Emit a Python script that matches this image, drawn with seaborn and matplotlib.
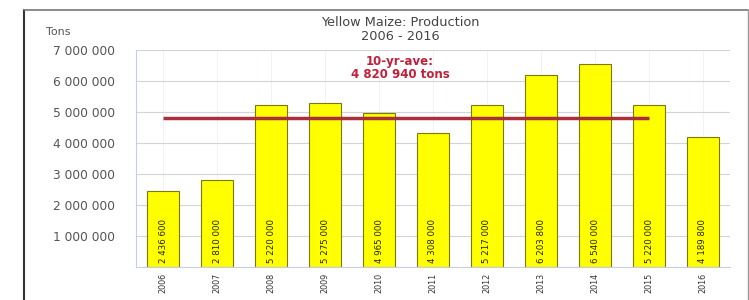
import matplotlib
matplotlib.use("Agg")
import matplotlib.pyplot as plt
import seaborn as sns
import pandas as pd
from matplotlib.lines import Line2D

years = ["2006", "2007", "2008", "2009", "2010", "2011", "2012", "2013", "2014", "2015", "2016"]
production = [2436600, 2810000, 5220000, 5275000, 4965000, 4308000, 5217000, 6203800, 6540000, 5220000, 4189800]
value_labels = ["2 436 600", "2 810 000", "5 220 000", "5 275 000", "4 965 000", "4 308 000",
                "5 217 000", "6 203 800", "6 540 000", "5 220 000", "4 189 800"]
avg_value = 4820940
avg_years = years[:10]
ytick_values = [1000000, 2000000, 3000000, 4000000, 5000000, 6000000, 7000000]
ytick_labels = ["1 000 000", "2 000 000", "3 000 000", "4 000 000", "5 000 000", "6 000 000", "7 000 000"]

sns.set_style("white")
plt.rcParams['font.family'] = ['DejaVu Sans']

fig = plt.figure(figsize=(7.49, 3.0), dpi=100)
ax = fig.add_axes([136/749, 1-267/300, (730-136)/749, (267-50)/300])

df = pd.DataFrame({"year": years, "production": production})
sns.barplot(data=df, x="year", y="production", ax=ax, color="#ffff00",
            edgecolor="#7a7a10", linewidth=0.8, width=0.6, saturation=1)

ax.set_ylim(0, 7000000)
ax.set_xlim(-0.5, len(years) - 0.5)
ax.set_yticks(ytick_values)
ax.set_yticklabels(ytick_labels, fontsize=8.8, color="#555555")
ax.tick_params(axis="y", length=0, pad=15)
ax.set_xticks(range(len(years)))
ax.set_xticklabels(years, rotation=90, fontsize=5.8, color="#333333")
ax.tick_params(axis="x", length=0, pad=4)
ax.set_xlabel("")
ax.set_ylabel("")
ax.yaxis.grid(True, color="#d4d4d4", linewidth=0.8)
ax.xaxis.grid(True, color="#eef0f8", linewidth=0.6)
ax.set_axisbelow(True)
for s in ["top", "right"]:
    ax.spines[s].set_visible(False)
for s in ["left", "bottom"]:
    ax.spines[s].set_color("#c8cce8")
    ax.spines[s].set_linewidth(0.8)

# value labels inside bars
for i, (v, lab) in enumerate(zip(production, value_labels)):
    ax.text(i, 140000, lab, rotation=90, ha="center", va="bottom",
            fontsize=6.2, color="#222200")

# average line from first to tenth bar
ax.plot([0, len(avg_years) - 1], [avg_value, avg_value], color="#a8303c",
        linewidth=2.5, solid_capstyle="butt", zorder=5)

# titles and annotations
fig.text(400/749, 1-23/300, "Yellow Maize: Production", ha="center", va="center",
         fontsize=9.3, color="#444444")
fig.text(400/749, 1-37/300, "2006 - 2016", ha="center", va="center",
         fontsize=9.3, color="#444444")
fig.text(400/749, 1-62/300, "10-yr-ave:", ha="center", va="center",
         fontsize=8.5, color="#c0203a", fontweight="bold")
fig.text(400/749, 1-74/300, "4 820 940 tons", ha="center", va="center",
         fontsize=8.5, color="#c0203a", fontweight="bold")
fig.text(46/749, 1-32/300, "Tons", ha="left", va="center", fontsize=8, color="#555555")

# outer frame
fig.add_artist(Line2D([24/749, 24/749], [0, 1-10/300], transform=fig.transFigure,
                      color="#333333", linewidth=1.5))
fig.add_artist(Line2D([24/749, 748/749], [1-10/300, 1-10/300], transform=fig.transFigure,
                      color="#777777", linewidth=1.2))
fig.add_artist(Line2D([748/749, 748/749], [0, 1-10/300], transform=fig.transFigure,
                      color="#999999", linewidth=1.0))

fig.savefig("out.png", dpi=100)
